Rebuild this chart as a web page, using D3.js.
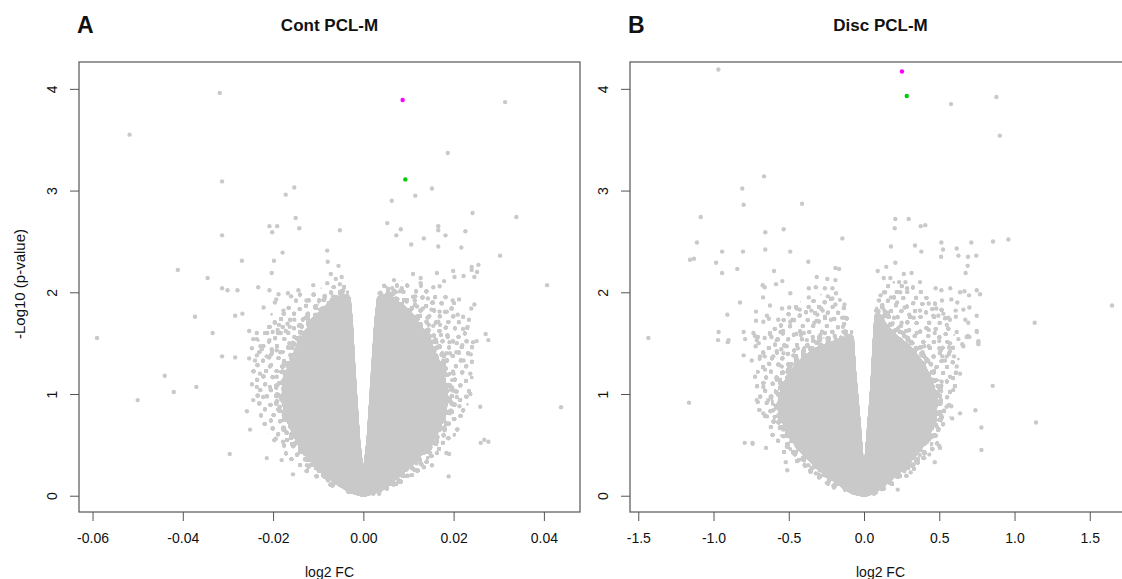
<!DOCTYPE html>
<html>
<head>
<meta charset="utf-8">
<script src="https://cdn.jsdelivr.net/npm/d3@7"></script>
<style>
body { margin:0; background:#fff; }
svg { font-family: "Liberation Sans", Arial, Helvetica, sans-serif; }
.tick line { stroke:#555; }
.tick text { font-size:14px; fill:#111; }
.frame { fill:none; stroke:#555; stroke-width:1.2; }
.title { font-size:17px; font-weight:bold; fill:#111; }
.letter { font-size:23px; font-weight:bold; fill:#111; }
.label { font-size:14px; fill:#111; }
</style>
</head>
<body>
<svg></svg>
<script>
// tick labels
var contTicks = [-0.06,-0.04,-0.02,0,0.02,0.04]
var discTicks = [-1.5,-1,-0.5,0,0.5,1,1.5]
var pTicks = [0,1,2,3,4]

// highlighted genes [log2 FC, -log10 p]
var contMagenta = [0.0087,3.89]
var contGreen = [0.0093,3.11]
var discMagenta = [0.252,4.17]
var discGreen = [0.284,3.93]

// outline of the solid mass of points near 0 (too dense to read one by one)
var contCore = [[-0.0045,1.97],[-0.0075,1.88],[-0.0105,1.76],[-0.0128,1.6],[-0.0150,1.42],[-0.0165,1.26],
  [-0.0176,1.1],[-0.0178,0.94],[-0.0170,0.78],[-0.0155,0.62],[-0.0135,0.46],[-0.0110,0.33],[-0.0082,0.21],
  [-0.0055,0.11],[-0.0028,0.04],[0,0],[0.0028,0.04],[0.0058,0.12],[0.0088,0.24],[0.0118,0.36],[0.0145,0.5],
  [0.0165,0.64],[0.0180,0.8],[0.0185,0.95],[0.0180,1.1],[0.0168,1.3],[0.0150,1.48],[0.0132,1.62],[0.0108,1.76],
  [0.0080,1.88],[0.0055,1.97],[0.0033,1.95],[0.0027,1.7],[0.0021,1.3],[0.0016,0.94],[0.0010,0.55],[0,0.15],
  [-0.0010,0.55],[-0.0016,0.94],[-0.0021,1.3],[-0.0026,1.7],[-0.0031,1.95]]

// outline of the looser cloud around the core
var contHalo = [[-0.0040,2.1],[-0.0090,2.05],[-0.0150,1.98],[-0.0200,1.82],[-0.0232,1.55],[-0.0248,1.3],
  [-0.0250,1.05],[-0.0235,0.8],[-0.0210,0.6],[-0.0178,0.42],[-0.0142,0.27],[-0.0095,0.14],[-0.0050,0.05],
  [0,0],[0.0050,0.05],[0.0095,0.15],[0.0140,0.28],[0.0180,0.45],[0.0212,0.65],[0.0232,0.9],[0.0242,1.15],
  [0.0244,1.45],[0.0230,1.7],[0.0200,1.92],[0.0150,2.05],[0.0090,2.12],[0.0045,2.1],[0.0033,1.95],
  [0.0027,1.7],[0.0021,1.3],[0.0016,0.94],[0.0010,0.55],[0,0.15],[-0.0010,0.55],[-0.0016,0.94],
  [-0.0021,1.3],[-0.0026,1.7],[-0.0031,1.95]]

var discCore = [[-0.09,1.58],[-0.14,1.53],[-0.22,1.5],[-0.31,1.45],[-0.40,1.36],[-0.47,1.24],[-0.53,1.1],
  [-0.56,0.94],[-0.55,0.8],[-0.51,0.63],[-0.43,0.46],[-0.33,0.31],[-0.23,0.19],[-0.14,0.09],[-0.07,0.03],
  [0,0],[0.06,0.03],[0.11,0.09],[0.19,0.18],[0.28,0.3],[0.36,0.44],[0.43,0.6],[0.47,0.78],[0.48,0.94],
  [0.45,1.12],[0.39,1.3],[0.31,1.45],[0.22,1.56],[0.15,1.66],[0.10,1.78],[0.078,1.78],[0.065,1.5],
  [0.055,1.2],[0.044,0.94],[0.025,0.6],[0,0.15],[-0.025,0.6],[-0.044,0.94],[-0.06,1.2],[-0.076,1.55]]

var discHalo = [[-0.09,1.85],[-0.2,1.98],[-0.35,1.98],[-0.5,1.84],[-0.62,1.62],[-0.7,1.36],[-0.73,1.05],
  [-0.70,0.78],[-0.62,0.55],[-0.50,0.35],[-0.36,0.2],[-0.2,0.08],[-0.08,0.02],[0,0],[0.08,0.02],[0.18,0.08],
  [0.30,0.2],[0.42,0.36],[0.52,0.56],[0.58,0.8],[0.62,1.05],[0.63,1.35],[0.60,1.6],[0.52,1.85],[0.40,2.02],
  [0.25,2.12],[0.12,2.08],[0.085,1.92],[0.07,1.6],[0.055,1.2],[0.044,0.94],[0.025,0.6],[0,0.15],
  [-0.025,0.6],[-0.044,0.94],[-0.06,1.2],[-0.076,1.55]]

// single points, Cont PCL-M
var contPoints = [
  [-0.0318,3.96],[-0.0518,3.55],[-0.0313,3.09],[-0.0153,3.03],[-0.0172,2.96],[-0.0150,2.73],[-0.0142,2.63],
  [-0.0208,2.65],[-0.0191,2.65],[-0.0202,2.59],[-0.0313,2.56],[-0.0179,2.39],[-0.0269,2.31],[-0.0198,2.31],
  [-0.0411,2.22],[-0.0203,2.19],[-0.0345,2.14],[-0.0313,2.04],[-0.0301,2.02],[-0.0279,2.02],[-0.0233,2.05],
  [-0.0208,2.02],[-0.0188,1.98],[-0.0167,1.99],[-0.0160,1.96],[-0.0144,2.02],[-0.0126,1.92],[-0.0196,1.90],
  [-0.0193,1.93],[-0.0221,1.85],[-0.0177,1.82],[-0.0373,1.76],[-0.0284,1.77],[-0.0268,1.79],[-0.0590,1.55],
  [-0.0334,1.60],[-0.0253,1.62],[-0.0236,1.60],[-0.0213,1.60],[-0.0201,1.61],[-0.0190,1.63],[-0.0183,1.60],
  [-0.0172,1.62],[-0.0196,1.70],[-0.0187,1.68],[-0.0168,1.69],[-0.0153,1.73],[-0.0143,1.67],[-0.0128,1.75],
  [-0.0244,1.54],[-0.0236,1.54],[-0.0208,1.53],[-0.0228,1.47],[-0.0225,1.44],[-0.0203,1.44],[-0.0164,1.50],
  [-0.0153,1.56],[-0.0143,1.51],[-0.0135,1.50],[-0.0123,1.58],[-0.0313,1.37],[-0.0284,1.36],[-0.0253,1.35],
  [-0.0236,1.38],[-0.0204,1.39],[-0.0184,1.41],[-0.0145,1.40],[-0.0132,1.42],
  [-0.0052,2.61],[-0.0080,2.41],[-0.0079,2.30],[-0.0055,2.26],[-0.0072,2.18],[-0.0048,2.15],[-0.0061,2.13],
  [-0.0111,2.07],[-0.0080,2.09],[-0.0052,2.08],[-0.0096,1.83],[-0.0067,1.96],[-0.0052,1.92],
  [-0.0247,1.45],[-0.0240,1.33],[-0.0214,1.37],[-0.0207,1.27],[-0.0229,1.20],[-0.0236,1.07],[-0.0222,0.97],
  [-0.0244,0.94],[-0.0207,1.07],[-0.0192,1.17],[-0.0251,0.65],[-0.0181,0.35],[-0.0177,0.65],[-0.0125,0.30],
  [-0.0207,1.66],[-0.0185,1.60],[-0.0163,1.66],[-0.0192,1.43],[-0.0177,1.27],[-0.0140,1.53],[-0.0133,1.40],
  [-0.0170,1.07],[-0.0185,0.875],[-0.0163,0.74],[-0.0148,0.61],[-0.0133,0.48],[-0.0118,0.35],[-0.0089,0.22],
  [-0.0067,0.12],
  [-0.0296,0.41],[-0.0214,0.37],[-0.0156,0.21],[-0.0194,0.56],[-0.0178,0.53],[-0.0258,0.83],[-0.0500,0.94],
  [0.0022,0.02],[0.0035,0.02],[0.0189,0.19],[0.0259,0.875],[0.0438,0.87],[0.0260,0.52],[0.0268,0.55],
  [0.0277,0.53],[0.0213,0.88],[0.0190,0.41],[0.0184,0.42],
  [-0.0440,1.18],[-0.0420,1.02],[-0.0370,1.07],
  [0.0314,3.87],[0.0187,3.37],[0.0152,3.02],[0.0115,2.95],[0.0063,2.90],[0.0242,2.78],[0.0339,2.74],
  [0.0053,2.68],[0.0083,2.62],[0.0073,2.56],[0.0166,2.65],[0.0166,2.61],[0.0182,2.56],[0.0226,2.60],
  [0.0106,2.47],[0.0134,2.53],[0.0166,2.45],[0.0217,2.44],[0.0303,2.36],[0.0407,2.07],[0.0110,2.18],
  [0.0127,2.14],[0.0127,2.09],[0.0163,2.19],[0.0179,2.11],[0.0199,2.21],[0.0202,2.15],[0.0222,2.16],
  [0.0240,2.25],[0.0240,2.22],[0.0255,2.27],[0.0252,2.20],[0.0246,2.15],[0.0068,2.12],[0.0064,2.04],
  [0.0085,2.04],[0.0081,2.01],[0.0036,1.99],[0.0062,1.98],[0.0155,2.05],[0.0169,2.06],[0.0115,1.96],
  [0.0096,1.91],[0.0114,1.92],[0.0143,1.94],[0.0154,1.90],[0.0198,1.92],[0.0212,1.93],[0.0246,1.88],
  [0.0239,1.84],[0.0119,1.86],[0.0132,1.84],[0.0151,1.83],[0.0169,1.81],[0.0185,1.81],[0.0209,1.78],
  [0.0221,1.76],[0.0234,1.73],[0.0121,1.74],[0.0142,1.75],[0.0166,1.71],[0.0155,1.67],[0.0170,1.68],
  [0.0145,1.68],[0.0231,1.66],[0.0221,1.64],[0.0271,1.59],[0.0277,1.53],[0.0243,1.51],[0.0251,1.52],
  [0.0172,1.58],[0.0187,1.56],[0.0191,1.51],[0.0207,1.50],[0.0219,1.48],[0.0162,1.51],[0.0142,1.49],
  [0.0238,1.39],[0.0184,1.40],[0.0192,1.40],[0.0206,1.41],[0.0158,1.43],[0.0117,1.37],
  [0.0222,1.33],[0.0177,1.33],[0.0200,1.20],[0.0185,1.07],[0.0207,0.97],[0.0237,1.20],[0.0192,0.81],
  [0.0155,0.68],[0.0133,0.55],[0.0148,0.42],[0.0118,0.32],[0.0237,1.00],[0.0163,0.42],[0.0152,0.30]
]

// single points, Disc PCL-M
var discPoints = [
  [-0.968,4.19],[-0.664,3.14],[-0.809,3.02],[-0.800,2.86],[-0.412,2.87],[-1.085,2.74],[-0.656,2.59],
  [-0.534,2.62],[-0.144,2.53],[-1.11,2.49],[-0.943,2.40],[-0.804,2.40],[-0.656,2.42],[-0.490,2.40],
  [-1.156,2.32],[-1.13,2.33],[-0.983,2.29],[-0.943,2.19],[-0.842,2.23],[-0.598,2.21],[-0.370,2.30],
  [-0.190,2.24],[-0.166,2.23],[-0.314,2.15],[-0.244,2.13],[-0.19,2.12],[-0.673,2.07],[-0.66,2.05],
  [-0.585,2.08],[-0.543,2.11],[-0.490,1.99],[-0.367,2.04],[-0.32,2.05],[-0.26,2.04],[-0.21,2.04],
  [-0.186,1.99],[-0.24,1.96],[-0.21,1.94],[-0.671,1.95],[-0.824,1.90],[-0.625,1.87],[-0.545,1.84],
  [-0.497,1.85],[-0.447,1.84],[-0.427,1.83],[-0.367,1.95],[-0.35,1.82],[-0.285,1.84],[-0.275,1.82],
  [-0.19,1.88],[-0.13,1.88],[-0.718,1.81],[-0.908,1.78],[-0.645,1.77],[-0.632,1.74],[-0.57,1.73],
  [-0.49,1.71],[-0.475,1.73],[-0.718,1.72],[-0.31,1.78],[-0.26,1.76],[-0.22,1.73],[-0.145,1.75],
  [-0.128,1.75],[-0.14,1.66],[-0.33,1.70],[-0.315,1.72],[-1.433,1.55],[-0.966,1.61],[-0.97,1.53],
  [-0.90,1.53],[-0.905,1.51],[-0.80,1.61],[-0.79,1.54],[-0.725,1.57],[-0.705,1.56],[-0.70,1.50],
  [-0.66,1.55],[-0.625,1.59],[-0.615,1.56],[-0.58,1.53],[-0.555,1.61],[-0.538,1.62],[-0.45,1.59],
  [-0.42,1.58],[-0.40,1.60],[-0.38,1.53],[-0.34,1.56],[-0.29,1.58],[-0.26,1.60],[-0.80,1.38],
  [-0.72,1.47],[-0.66,1.37],[-0.58,1.42],[-0.535,1.40],[-0.55,1.44],[-0.47,1.38],[-0.44,1.45],
  [-0.735,1.60],[-0.669,1.71],[-0.713,1.53],[-0.625,1.60],[-0.691,1.37],[-0.603,1.37],[-0.658,1.24],
  [-0.724,1.17],[-0.58,1.14],[-0.669,1.07],[-0.636,0.94],[-0.713,0.94],[-0.603,0.84],[-0.669,0.81],
  [-0.558,0.78],[-0.536,0.65],[-0.746,1.33],[-0.514,1.47],[-0.547,1.27],[-0.74,0.51],[-0.651,0.47],
  [-0.52,0.33],[-0.51,0.25],[-0.37,0.30],[-0.32,0.22],[-0.30,0.21],[-0.20,0.08],[0.224,0.06],[0.066,0.02],
  [0.47,0.33],[0.31,0.23],[0.33,0.31],[0.37,0.40],[0.50,0.49],[0.638,0.81],[0.74,0.84],[0.78,0.67],
  [0.78,0.45],[0.855,1.08],[0.76,1.51],[0.75,1.61],
  [-1.163,0.915],[-0.793,0.52],[-0.741,0.52],[-0.645,0.78],[1.143,0.72],[0.586,0.76],[0.505,0.47],
  [0.40,0.37],[0.58,0.88],
  [0.880,3.92],[0.578,3.85],[0.902,3.54],[1.648,1.87],[1.134,1.70],[0.208,2.72],[0.297,2.72],[0.204,2.63],
  [0.377,2.65],[0.407,2.66],[0.179,2.45],[0.339,2.46],[0.381,2.40],[0.514,2.49],[0.525,2.42],[0.512,2.35],
  [0.616,2.43],[0.627,2.36],[0.691,2.35],[0.713,2.49],[0.746,2.36],[0.857,2.50],[0.959,2.52],[0.689,2.26],
  [0.675,2.19],[0.091,2.21],[0.148,2.25],[0.208,2.29],[0.264,2.18],[0.316,2.19],[0.131,2.14],[0.175,2.14],
  [0.233,2.10],[0.275,2.10],[0.372,2.10],[0.286,2.04],[0.476,2.04],[0.514,2.02],[0.573,2.04],[0.638,2.00],
  [0.667,2.01],[0.698,1.97],[0.749,2.02],[0.771,1.98],[0.11,1.97],[0.10,1.92],[0.518,1.92],[0.58,1.93],
  [0.62,1.90],[0.70,1.85],[0.609,1.82],[0.749,1.77],[0.673,1.73],[0.61,1.76],[0.56,1.75],[0.55,1.68],
  [0.494,1.77],[0.46,1.77],[0.43,1.89],[0.48,1.84],[0.372,1.82],[0.33,1.75],[0.749,1.62],[0.76,1.52],
  [0.76,1.49],[0.69,1.57],[0.70,1.56],[0.627,1.54],[0.653,1.49],[0.565,1.46],[0.55,1.37],[0.52,1.37],
  [0.50,1.45],[0.51,1.43],[0.43,1.47],[0.40,1.47],[0.39,1.41],[0.47,1.60],[0.50,1.52],[0.43,1.63],
  [0.571,1.42],[0.598,1.37],[0.538,1.33],[0.616,1.27],[0.571,1.17],[0.638,1.20],[0.516,1.12],[0.593,1.04],
  [0.549,0.875],[0.483,0.68],[0.571,1.50],[0.682,1.56],[0.66,1.47],[0.616,1.61],[0.693,1.70],[0.571,1.73],
  [0.66,1.83],[0.527,1.79],
  [0.12,1.85],[0.16,1.80],[0.2,1.75],[0.25,1.70],[0.28,1.62],[0.22,1.9],[0.18,1.95],[0.27,1.85],[0.3,1.78],
  [0.35,1.6],[0.32,1.5],[0.14,2.0],[0.24,2.0],[0.08,1.82]
]

var grey = "#c9c9c9"

var makeTranslateString = function(x,y)
{
    return "translate("+x+","+y+")";
}

// R style labels: plain hyphen for minus
var makeFormat = function(spec)
{
    var f = d3.format(spec)
    return function(d) { return f(d).replace("\u2212","-") }
}

// fine dot textures + a blur/threshold filter that grows them into round points
var makeDefs = function(svg)
{
    var specs = [
        {id:"dotsA",w:8,h:8,rot:0,spots:[[4,4]]},
        {id:"dotsB",w:20,h:20,rot:17,spots:[[2,3],[11,1],[17,8],[6,10],[13,14],[3,17]]},
        {id:"dotsC",w:9,h:7,rot:-41,spots:[[4.5,3.5]]}
    ]
    var defs = svg.append("defs")
    var pats = defs.selectAll("pattern")
        .data(specs)
        .enter()
        .append("pattern")
        .attr("id",function(s){ return s.id })
        .attr("patternUnits","userSpaceOnUse")
        .attr("width",function(s){ return s.w })
        .attr("height",function(s){ return s.h })
        .attr("patternTransform",function(s){ return "rotate("+s.rot+")" })
    pats.selectAll("circle")
        .data(function(s){ return s.spots })
        .enter()
        .append("circle")
        .attr("cx",function(p){ return p[0] })
        .attr("cy",function(p){ return p[1] })
        .attr("r",0.9)
        .attr("fill","#000")

    var goo = defs.append("filter")
        .attr("id","goo")
        .attr("filterUnits","userSpaceOnUse")
        .attr("x",0).attr("y",0).attr("width",1122).attr("height",579)
    goo.append("feGaussianBlur")
        .attr("in","SourceGraphic").attr("stdDeviation",1.1).attr("result","b")
    goo.append("feComponentTransfer")
        .attr("in","b").attr("result","t")
        .append("feFuncA").attr("type","linear").attr("slope",30).attr("intercept",-1.2)
    goo.append("feFlood").attr("flood-color",grey).attr("result","c")
    goo.append("feComposite").attr("in","c").attr("in2","t").attr("operator","in")
    return defs
}

// one volcano panel
var drawPanel = function(svg,defs,panel)
{
    var xScale = d3.scaleLinear().domain(panel.xDomain).range([panel.left,panel.right])
    var yScale = d3.scaleLinear().domain([-0.160,4.264]).range([512,62])

    var line = d3.line()
        .x(function(d){ return xScale(d[0]) })
        .y(function(d){ return yScale(d[1]) })
        .curve(d3.curveLinearClosed)

    var clipId = "clip"+panel.letter
    defs.append("clipPath").attr("id",clipId)
        .append("rect")
        .attr("x",panel.left).attr("y",62)
        .attr("width",panel.right-panel.left).attr("height",450)

    // the cloud stays inside its outline, so the V gap is kept clear
    var haloId = "halo"+panel.letter
    defs.append("clipPath").attr("id",haloId)
        .append("path")
        .attr("d",line(panel.halo))

    var plot = svg.append("g").attr("clip-path","url(#"+clipId+")")

    var cloud = plot.append("g")
        .attr("filter","url(#goo)")
        .append("g")
        .attr("clip-path","url(#"+haloId+")")

    // loose cloud
    cloud.append("path")
        .attr("d",line(panel.halo))
        .attr("fill","url(#dotsB)")

    // denser band just around the core
    cloud.selectAll("path.band")
        .data(["dotsA","dotsC"])
        .enter()
        .append("path")
        .classed("band",true)
        .attr("d",line(panel.core))
        .attr("fill","none")
        .attr("stroke",function(id){ return "url(#"+id+")" })
        .attr("stroke-width",16)
        .attr("stroke-linejoin","round")

    // solid core
    cloud.append("path")
        .attr("d",line(panel.core))
        .attr("fill","#000")

    plot.selectAll("circle.pt")
        .data(panel.points)
        .enter()
        .append("circle")
        .classed("pt",true)
        .attr("cx",function(d){ return xScale(d[0]) })
        .attr("cy",function(d){ return yScale(d[1]) })
        .attr("r",2.2)
        .attr("fill",grey)

    plot.append("circle")
        .attr("cx",xScale(panel.magenta[0])).attr("cy",yScale(panel.magenta[1]))
        .attr("r",2.2).attr("fill","#ff00ff")
    plot.append("circle")
        .attr("cx",xScale(panel.green[0])).attr("cy",yScale(panel.green[1]))
        .attr("r",2.2).attr("fill","#00cc00")

    // axes
    var xAxis = svg.append("g")
        .attr("transform",makeTranslateString(0,512))
        .call(d3.axisBottom(xScale).tickValues(panel.ticks).tickSize(9).tickFormat(makeFormat(panel.fmt)))
    xAxis.select(".domain").remove()
    xAxis.selectAll("text").attr("y",31).attr("dy","0")

    var yAxis = svg.append("g")
        .attr("transform",makeTranslateString(panel.left,0))
        .call(d3.axisLeft(yScale).tickValues(pTicks).tickSize(9).tickFormat(d3.format("d")))
    yAxis.select(".domain").remove()
    yAxis.selectAll("text")
        .attr("x",0).attr("dy","0")
        .attr("text-anchor","middle")
        .attr("transform","translate(-22,0) rotate(-90)")

    svg.append("rect").classed("frame",true)
        .attr("x",panel.left).attr("y",62)
        .attr("width",panel.right-panel.left).attr("height",450)

    var mid = (panel.left+panel.right)/2
    svg.append("text").classed("title",true)
        .attr("x",mid).attr("y",31)
        .attr("text-anchor","middle")
        .text(panel.title)
    svg.append("text").classed("letter",true)
        .attr("x",panel.left-2).attr("y",33)
        .text(panel.letter)
    svg.append("text").classed("label",true)
        .attr("x",mid).attr("y",577)
        .attr("text-anchor","middle")
        .text("log2 FC")
}

var initGraph = function()
{
    var svg = d3.select("svg")
        .attr("width",1122)
        .attr("height",579)

    var defs = makeDefs(svg)

    drawPanel(svg,defs,{letter:"A",title:"Cont PCL-M",left:79,right:580,
        xDomain:[-0.0630,0.0480],ticks:contTicks,fmt:".2f",
        core:contCore,halo:contHalo,points:contPoints,magenta:contMagenta,green:contGreen})

    drawPanel(svg,defs,{letter:"B",title:"Disc PCL-M",left:630,right:1131,
        xDomain:[-1.555,1.774],ticks:discTicks,fmt:".1f",
        core:discCore,halo:discHalo,points:discPoints,magenta:discMagenta,green:discGreen})

    svg.append("g")
        .attr("transform","translate(25,284)")
        .append("text")
        .classed("label",true)
        .style("font-size","15px")
        .attr("text-anchor","middle")
        .attr("transform","rotate(-90)")
        .text("-Log10 (p-value)")
}

initGraph()
</script>
</body>
</html>
